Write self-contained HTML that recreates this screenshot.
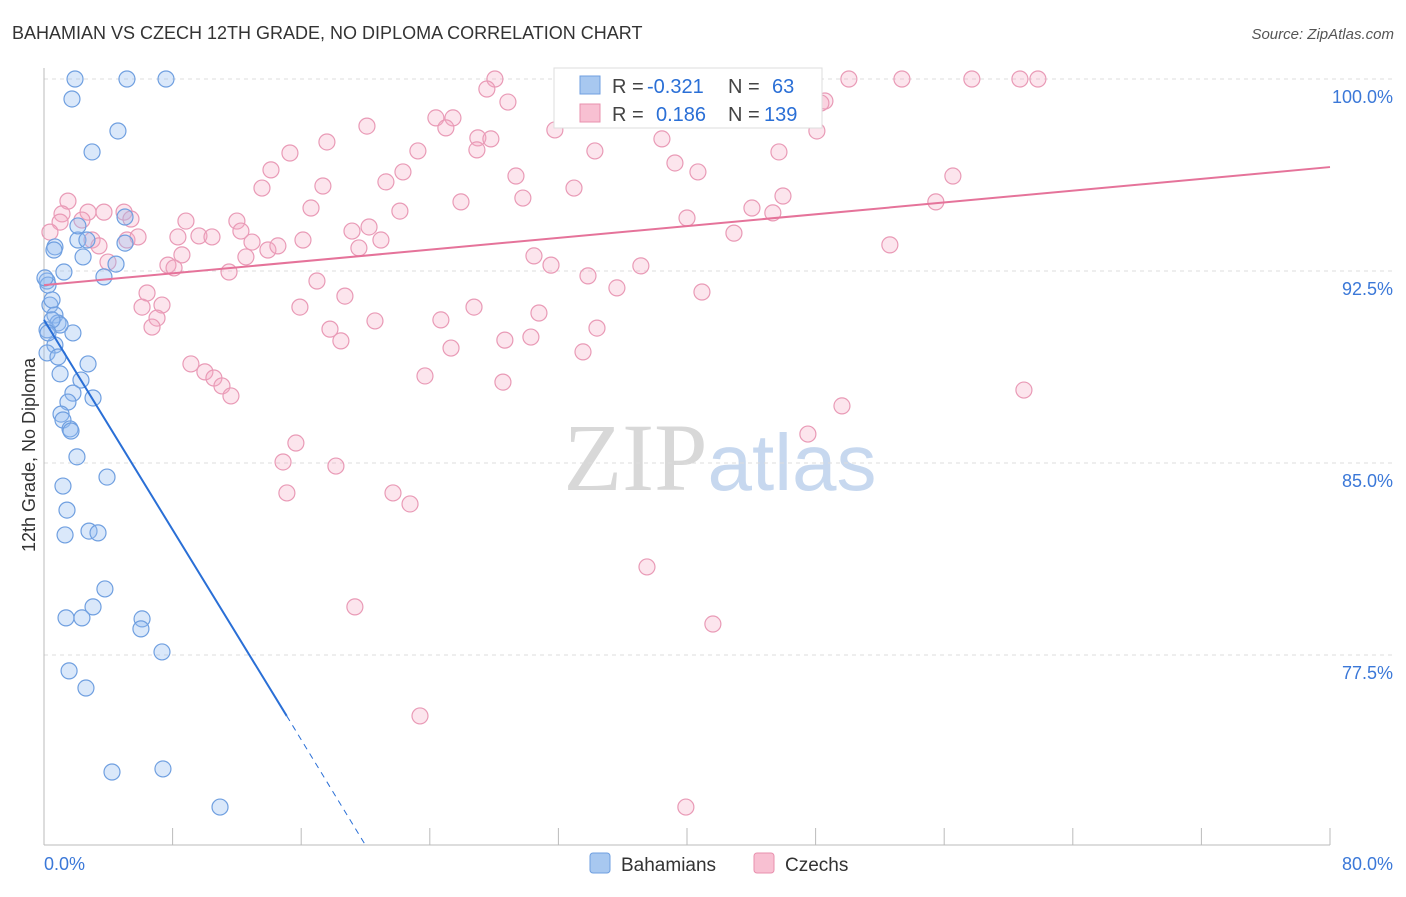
<!DOCTYPE html>
<html><head><meta charset="utf-8"><style>
body{margin:0;background:#fff;font-family:"Liberation Sans",sans-serif;}
svg text{font-family:"Liberation Sans",sans-serif;}
</style></head><body>
<svg id="chart" width="1406" height="892" xmlns="http://www.w3.org/2000/svg">
<text x="12" y="39" font-size="18" fill="#333">BAHAMIAN VS CZECH 12TH GRADE, NO DIPLOMA CORRELATION CHART</text>
<text x="1394" y="39" font-size="15" fill="#555" text-anchor="end" font-style="italic">Source: ZipAtlas.com</text>
<text x="720" y="490" font-size="96" text-anchor="middle"><tspan fill="#d8d8d8" font-family="Liberation Serif">ZIP</tspan><tspan fill="#c7d8ef" font-size="80">atlas</tspan></text>
<g id="grid"></g>
<g id="axes"></g>
<g id="marks"></g>
<text transform="translate(35,455) rotate(-90)" font-size="18" fill="#333" text-anchor="middle">12th Grade, No Diploma</text>
<g>
<rect x="554" y="68" width="268" height="60" fill="#fff" stroke="#ddd"/>
<rect x="580" y="76" width="20" height="18" fill="#a8c8f0" stroke="#6f9fe0"/>
<rect x="580" y="104" width="20" height="18" fill="#f8c0d2" stroke="#e890ae"/>
<text x="612" y="93" font-size="20" fill="#444">R =</text>
<text x="647" y="93" font-size="20" fill="#2a6fd6">-0.321</text>
<text x="728" y="93" font-size="20" fill="#444">N =</text>
<text x="772" y="93" font-size="20" fill="#2a6fd6">63</text>
<text x="612" y="121" font-size="20" fill="#444">R =</text>
<text x="656" y="121" font-size="20" fill="#2a6fd6">0.186</text>
<text x="728" y="121" font-size="20" fill="#444">N =</text>
<text x="764" y="121" font-size="20" fill="#2a6fd6">139</text>
</g>
<g>
<rect x="590" y="853" width="20" height="20" rx="3" fill="#a8c8f0" stroke="#6f9fe0"/>
<text x="621" y="871" font-size="19" fill="#333">Bahamians</text>
<rect x="754" y="853" width="20" height="20" rx="3" fill="#f8c0d2" stroke="#e890ae"/>
<text x="785" y="871" font-size="19" fill="#333">Czechs</text>
</g>
</svg>
<script>
const yTicks=[100,92.5,85,77.5];
const yTickLabels=["100.0%","92.5%","85.0%","77.5%"];
const xEnds=[0,80];
const xEndLabels=["0.0%","80.0%"];
const blueX=[1.93,5.16,7.59,1.74,4.6,2.99,5.04,0.68,2.11,2.67,2.11,2.43,4.48,1.24,0.19,3.73,0.37,0.68,0.87,0.19,1.8,0.68,0.19,0.87,2.74,1.0,2.3,1.8,3.05,1.49,1.06,1.18,1.62,1.68,2.05,3.92,1.18,1.43,1.31,2.8,3.36,3.79,1.37,2.36,3.05,6.1,6.03,7.34,1.56,2.61,4.23,7.4,10.95,0.25,0.5,1.0,0.5,0.06,0.62,5.04,0.25];
const blueY=[100,100,100,99.22,97.97,97.15,94.61,93.44,93.71,93.71,94.26,93.05,92.77,92.46,92.11,92.27,91.17,90.78,90.47,90.2,90.08,89.61,89.3,89.14,88.87,88.48,88.24,87.73,87.54,87.38,86.91,86.68,86.33,86.25,85.24,84.45,84.1,83.16,82.19,82.34,82.27,80.08,78.95,78.95,79.38,78.91,78.52,77.62,76.88,76.21,72.93,73.05,71.56,91.95,91.37,90.39,90.59,92.23,93.32,93.59,90.08];
const pinkX=[28.05,44.41,50.07,53.37,57.72,60.71,61.83,27.55,28.86,48.58,48.33,20.09,24.38,25.44,25.0,31.78,26.99,27.8,15.3,17.6,23.26,26.93,34.27,38.44,39.25,45.72,48.08,14.12,13.56,17.35,21.27,22.33,29.36,32.97,40.68,56.54,45.97,1.49,3.73,4.98,2.74,1.12,1.0,2.36,5.41,8.83,12.0,16.61,22.14,25.94,29.79,44.04,45.34,55.48,40.0,42.92,52.62,2.99,3.42,5.16,5.85,8.33,9.64,10.45,12.25,12.94,13.93,14.55,16.11,19.16,20.22,20.96,19.59,12.56,11.51,7.71,8.09,8.58,3.98,30.48,31.54,37.13,33.84,35.64,40.93,6.41,7.34,6.1,7.03,6.72,16.98,18.72,15.92,17.79,18.47,20.59,24.69,25.32,26.75,28.67,30.79,30.29,34.4,33.53,9.14,10.01,10.57,11.07,11.63,23.7,28.55,60.96,49.64,47.52,15.67,14.87,18.16,15.11,21.71,22.77,37.51,19.34,41.61,23.39,39.93,0.37];
const pinkY=[100,100,100,100,100,100,100,99.61,99.1,99.14,99.06,98.16,98.48,98.48,98.09,98.01,97.7,97.66,97.11,97.54,97.19,97.23,97.19,97.66,96.72,97.15,97.97,96.45,95.74,95.82,95.98,96.37,96.21,95.74,96.37,96.21,95.43,95.23,94.8,94.8,94.8,94.73,94.41,94.49,94.53,94.45,94.45,94.96,94.84,95.2,95.35,94.96,94.77,95.2,94.57,93.98,93.52,93.71,93.48,93.71,93.83,93.83,93.87,93.83,94.06,93.63,93.32,93.48,93.71,94.06,94.22,93.71,93.4,93.05,92.46,92.73,92.62,93.13,92.85,93.09,92.73,92.7,92.31,91.84,91.68,91.64,91.17,91.09,90.66,90.31,92.11,91.52,91.09,90.23,89.77,90.55,90.59,89.49,91.09,89.8,90.86,89.92,90.27,89.34,88.87,88.56,88.32,88.01,87.62,88.4,88.16,87.85,87.23,86.13,85.78,85.04,84.88,83.83,83.83,83.4,80.94,79.38,78.71,75.12,71.56,94.02];
const blueTrendX=[0,15.1];const blueTrendY=[90.59,75.12];
const blueDashX=[15.1,19.97];const blueDashY=[75.12,70.1];
const pinkTrendX=[0,80];const pinkTrendY=[91.95,96.56];

const NS="http://www.w3.org/2000/svg";
const X0=44,X1=1330,Y0=79,YPX=25.6;
function sx(v){return X0+(v-xEnds[0])/(xEnds[1]-xEnds[0])*(X1-X0);}
function sy(v){return Y0+(100-v)*YPX;}
function mk(t,a,p){const e=document.createElementNS(NS,t);for(const k in a)e.setAttribute(k,a[k]);p.appendChild(e);return e;}
const grid=document.getElementById('grid'),axes=document.getElementById('axes'),marks=document.getElementById('marks');
yTicks.forEach((t,i)=>{
 const l=mk('line',{x1:X0,x2:1392,y1:sy(t),y2:sy(t),stroke:'#dcdcdc','stroke-dasharray':'4,4'},grid);
 
 
 const tx=mk('text',{x:1393,y:sy(t)+24,'font-size':18,fill:'#3b78d8','text-anchor':'end'},axes);
 tx.textContent=yTickLabels[i];
 
 
});
const ax=mk('line',{x1:X0,x2:X1,y1:845,y2:845,stroke:'#bbb'},axes);


const ay=mk('line',{x1:X0,x2:X0,y1:68,y2:845,stroke:'#bbb'},axes);


for(let k=0;k<=10;k++){
 const v=xEnds[0]+k*(xEnds[1]-xEnds[0])/10;
 const t=mk('line',{x1:sx(v),x2:sx(v),y1:828,y2:845,stroke:'#bbb'},axes);
 
 
}
xEndLabels.forEach((s,i)=>{
 const t=mk('text',{x:i?1393:44,y:870,'font-size':18,fill:'#3b78d8','text-anchor':i?'end':'start'},axes);
 t.textContent=s;
 
 
});
pinkX.forEach((x,i)=>{
 const c=mk('circle',{cx:sx(x),cy:sy(pinkY[i]),r:8,fill:'rgba(244,170,196,0.3)',stroke:'#e99ab6','stroke-width':1.2},marks);
 
 
});
blueX.forEach((x,i)=>{
 const c=mk('circle',{cx:sx(x),cy:sy(blueY[i]),r:8,fill:'rgba(150,190,240,0.35)',stroke:'#6f9fe0','stroke-width':1.2},marks);
 
 
});
const bt=mk('line',{x1:sx(blueTrendX[0]),y1:sy(blueTrendY[0]),x2:sx(blueTrendX[1]),y2:sy(blueTrendY[1]),stroke:'#2a6fd6','stroke-width':2},marks);


const bd=mk('line',{x1:sx(blueDashX[0]),y1:sy(blueDashY[0]),x2:sx(blueDashX[1]),y2:sy(blueDashY[1]),stroke:'#2a6fd6','stroke-width':1,'stroke-dasharray':'6,5'},marks);


const pt=mk('line',{x1:sx(pinkTrendX[0]),y1:sy(pinkTrendY[0]),x2:sx(pinkTrendX[1]),y2:sy(pinkTrendY[1]),stroke:'#e5739a','stroke-width':2},marks);


</script>
</body></html>
